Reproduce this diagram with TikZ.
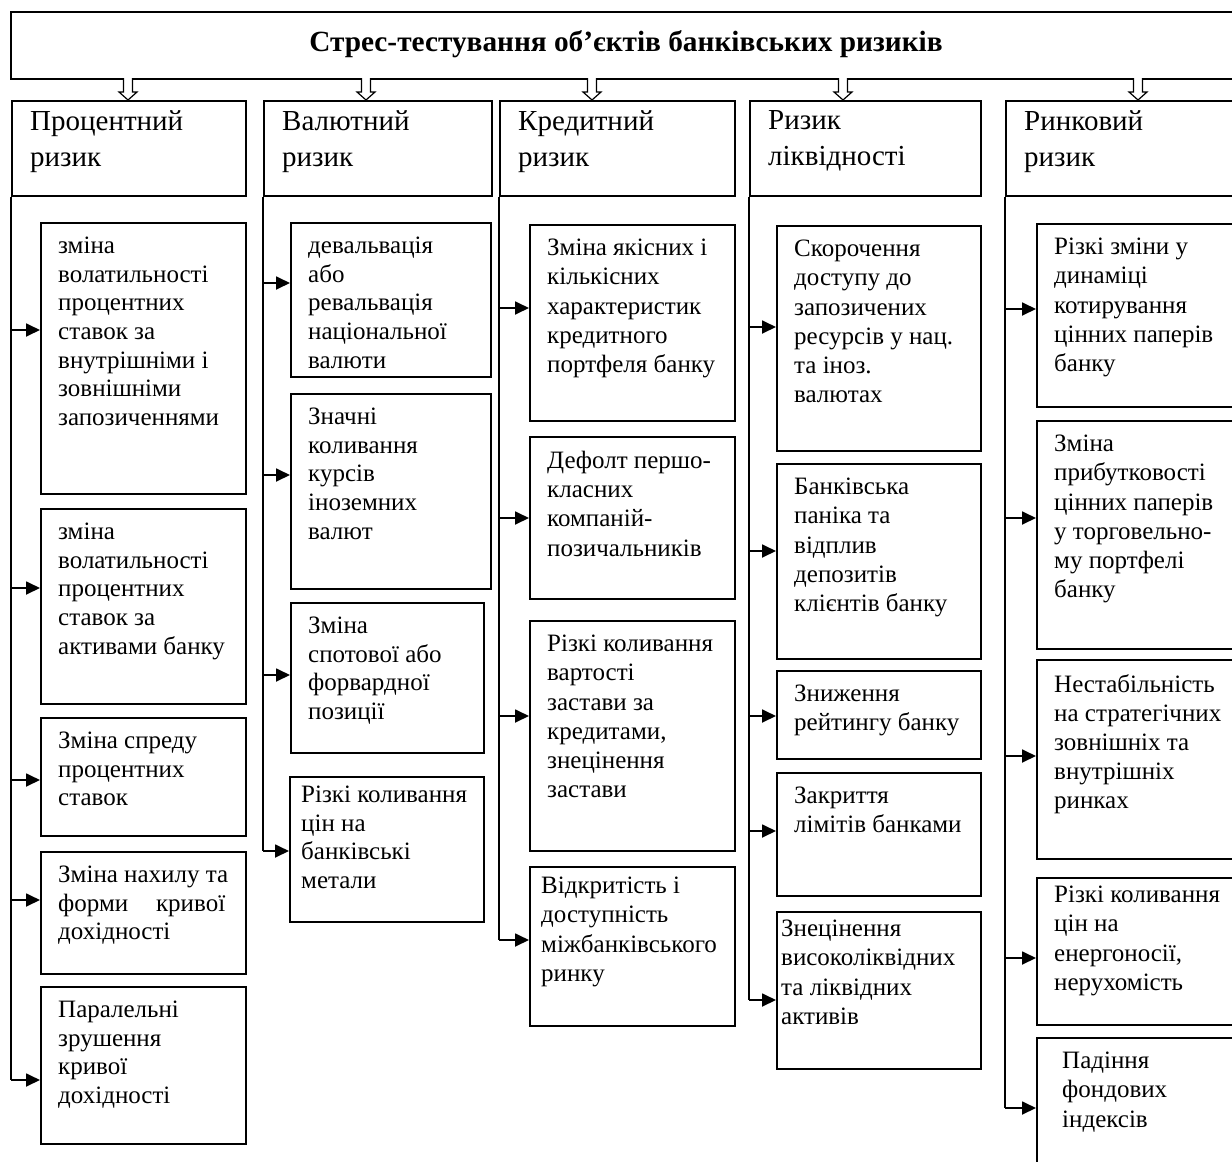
\documentclass[tikz,border=0pt]{standalone}
\usepackage{fontspec}
\setmainfont{Liberation Serif}
\usetikzlibrary{arrows.meta,positioning}

\tikzset{
  hdr/.style={draw, line width=1.6pt, anchor=north west, inner sep=0pt, minimum height=95pt},
  leaf/.style={draw, line width=1.6pt, anchor=north west, inner sep=0pt},
  htxt/.style={anchor=north west, align=left, inner sep=0pt, xshift=19pt, yshift=-10pt,
    font=\fontsize{29}{36}\selectfont, execute at begin node={\rule{0pt}{22pt}}},
  ltxt/.style={anchor=north west, align=left, inner sep=0pt, xshift=18pt, yshift=-15pt,
    font=\fontsize{25}{28.6}\selectfont, execute at begin node={\rule{0pt}{20pt}}},
  wtxt/.style={ltxt, font=\fontsize{25}{29.2}\selectfont},
  arr/.style={line width=1.8pt, -{Triangle[length=14pt,width=13pt]}},
  trunk/.style={line width=1.6pt},
  hollow/.style={line width=1.2pt, fill=white},
}

\begin{document}
\begin{tikzpicture}[x=1pt, y=-1pt]
  \useasboundingbox (0,0) rectangle (1232,1162);
  \clip (0,0) rectangle (1232,1162);

  % top box
  \node[leaf, minimum width=1240pt, minimum height=67pt] (top) at (10,11) {};
  \node[font=\bfseries\fontsize{29.3}{34}\selectfont] (title) at (626,44) {Стрес-тестування об’єктів банківських ризиків};

  % risk headers
  \node[hdr, minimum width=234pt] (h1) at (11,100) {};
  \node[hdr, minimum width=228pt] (h2) at (263,100) {};
  \node[hdr, minimum width=235pt] (h3) at (499,100) {};
  \node[hdr, minimum width=231pt] (h4) at (749,100) {};
  \node[hdr, minimum width=240pt] (h5) at (1005,100) {};
  \node[htxt] (h1t) at (h1.north west) {Процентний\\ризик};
  \node[htxt] (h2t) at (h2.north west) {Валютний\\ризик};
  \node[htxt] (h3t) at (h3.north west) {Кредитний\\ризик};
  \node[htxt] (h4t) at (h4.north west) {Ризик\\ліквідності};
  \node[htxt] (h5t) at (h5.north west) {Ринковий\\ризик};

  \foreach \x in {128,366,592,843,1138}
    \draw[hollow] (\x-4.5,78) -- (\x-4.5,92) -- (\x-9,92) -- (\x,100) -- (\x+9,92) -- (\x+4.5,92) -- (\x+4.5,78);

  % interest rate risk
  \node[leaf, minimum width=205pt, minimum height=271pt] (p1) at (40,222) {};
  \node[leaf, minimum width=205pt, minimum height=195pt] (p2) at (40,508) {};
  \node[leaf, minimum width=205pt, minimum height=118pt] (p3) at (40,717) {};
  \node[leaf, minimum width=205pt, minimum height=122pt] (p4) at (40,851) {};
  \node[leaf, minimum width=205pt, minimum height=157pt] (p5) at (40,986) {};
  \node[ltxt] (p1t) at (p1.north west) {зміна\\волатильності\\процентних\\ставок за\\внутрішніми і\\зовнішніми\\запозиченнями};
  \node[ltxt] (p2t) at (p2.north west) {зміна\\волатильності\\процентних\\ставок за\\активами банку};
  \node[ltxt] (p3t) at (p3.north west) {Зміна спреду\\процентних\\ставок};
  \node[ltxt] (p4t) at (p4.north west) {Зміна нахилу та\\\hbox to 167pt{форми\hfill кривої}\\дохідності};
  \node[ltxt] (p5t) at (p5.north west) {Паралельні\\зрушення\\кривої\\дохідності};

  % currency risk
  \node[leaf, minimum width=200pt, minimum height=154pt] (v1) at (290,222) {};
  \node[leaf, minimum width=200pt, minimum height=195pt] (v2) at (290,393) {};
  \node[leaf, minimum width=193pt, minimum height=150pt] (v3) at (290,602) {};
  \node[leaf, minimum width=194pt, minimum height=145pt] (v4) at (289,776) {};
  \node[ltxt] (v1t) at (v1.north west) {девальвація\\або\\ревальвація\\національної\\валюти};
  \node[ltxt] (v2t) at (v2.north west) {Значні\\коливання\\курсів\\іноземних\\валют};
  \node[ltxt] (v3t) at (v3.north west) {Зміна\\спотової або\\форвардної\\позиції};
  \node[ltxt, xshift=-6pt, yshift=5pt] (v4t) at (v4.north west) {Різкі коливання\\цін на\\банківські\\метали};

  % credit risk
  \node[leaf, minimum width=205pt, minimum height=196pt] (k1) at (529,224) {};
  \node[leaf, minimum width=205pt, minimum height=162pt] (k2) at (529,436) {};
  \node[leaf, minimum width=205pt, minimum height=230pt] (k3) at (529,620) {};
  \node[leaf, minimum width=205pt, minimum height=159pt] (k4) at (529,866) {};
  \node[wtxt] (k1t) at (k1.north west) {Зміна якісних і\\кількісних\\характеристик\\кредитного\\портфеля банку};
  \node[wtxt] (k2t) at (k2.north west) {Дефолт першо-\\класних\\компаній-\\позичальників};
  \node[wtxt] (k3t) at (k3.north west) {Різкі коливання\\вартості\\застави за\\кредитами,\\знецінення\\застави};
  \node[wtxt, xshift=-6pt, yshift=4pt] (k4t) at (k4.north west) {Відкритість і\\доступність\\міжбанківського\\ринку};

  % liquidity risk
  \node[leaf, minimum width=204pt, minimum height=225pt] (l1) at (776,225) {};
  \node[leaf, minimum width=204pt, minimum height=195pt] (l2) at (776,463) {};
  \node[leaf, minimum width=204pt, minimum height=88pt] (l3) at (776,670) {};
  \node[leaf, minimum width=204pt, minimum height=123pt] (l4) at (776,772) {};
  \node[leaf, minimum width=204pt, minimum height=157pt] (l5) at (776,911) {};
  \node[wtxt] (l1t) at (l1.north west) {Скорочення\\доступу до\\запозичених\\ресурсів у нац.\\та іноз.\\валютах};
  \node[wtxt] (l2t) at (l2.north west) {Банківська\\паніка та\\відплив\\депозитів\\клієнтів банку};
  \node[wtxt] (l3t) at (l3.north west) {Зниження\\рейтингу банку};
  \node[wtxt] (l4t) at (l4.north west) {Закриття\\лімітів банками};
  \node[wtxt, xshift=-13pt, yshift=6pt] (l5t) at (l5.north west) {Знецінення\\високоліквідних\\та ліквідних\\активів};

  % market risk
  \node[leaf, minimum width=220pt, minimum height=183pt] (r1) at (1036,223) {};
  \node[leaf, minimum width=220pt, minimum height=228pt] (r2) at (1036,420) {};
  \node[leaf, minimum width=220pt, minimum height=199pt] (r3) at (1036,659) {};
  \node[leaf, minimum width=220pt, minimum height=147pt] (r4) at (1036,877) {};
  \node[leaf, minimum width=220pt, minimum height=140pt] (r5) at (1036,1037) {};
  \node[wtxt] (r1t) at (r1.north west) {Різкі зміни у\\динаміці\\котирування\\цінних паперів\\банку};
  \node[wtxt] (r2t) at (r2.north west) {Зміна\\прибутковості\\цінних паперів\\у торговельно-\\му портфелі\\банку};
  \node[wtxt] (r3t) at (r3.north west) {Нестабільність\\на стратегічних\\зовнішніх та\\внутрішніх\\ринках};
  \node[wtxt, yshift=6pt] (r4t) at (r4.north west) {Різкі коливання\\цін на\\енергоносії,\\нерухомість};
  \node[wtxt, xshift=8pt] (r5t) at (r5.north west) {Падіння\\фондових\\індексів};

  % trunks and arrows
  \draw[trunk] (h1.south west) -- (h1.south west |- 0,1080);
  \draw[trunk] (h2.south west) -- (h2.south west |- 0,851);
  \draw[trunk] (h3.south west) -- (h3.south west |- 0,940);
  \draw[trunk] (h4.south west) -- (h4.south west |- 0,1000);
  \draw[trunk] (h5.south west) -- (h5.south west |- 0,1108);
  \foreach \n/\y in {p1/330,p2/588,p3/780,p4/900,p5/1080}
    \draw[arr] (h1.south west |- 0,\y) -- (\n.west |- 0,\y);
  \foreach \n/\y in {v1/283,v2/475,v3/675,v4/851}
    \draw[arr] (h2.south west |- 0,\y) -- (\n.west |- 0,\y);
  \foreach \n/\y in {k1/308,k2/518,k3/716,k4/940}
    \draw[arr] (h3.south west |- 0,\y) -- (\n.west |- 0,\y);
  \foreach \n/\y in {l1/327,l2/551,l3/716,l4/831,l5/1000}
    \draw[arr] (h4.south west |- 0,\y) -- (\n.west |- 0,\y);
  \foreach \n/\y in {r1/309,r2/518,r3/756,r4/958,r5/1108}
    \draw[arr] (h5.south west |- 0,\y) -- (\n.west |- 0,\y);
\end{tikzpicture}
\end{document}
